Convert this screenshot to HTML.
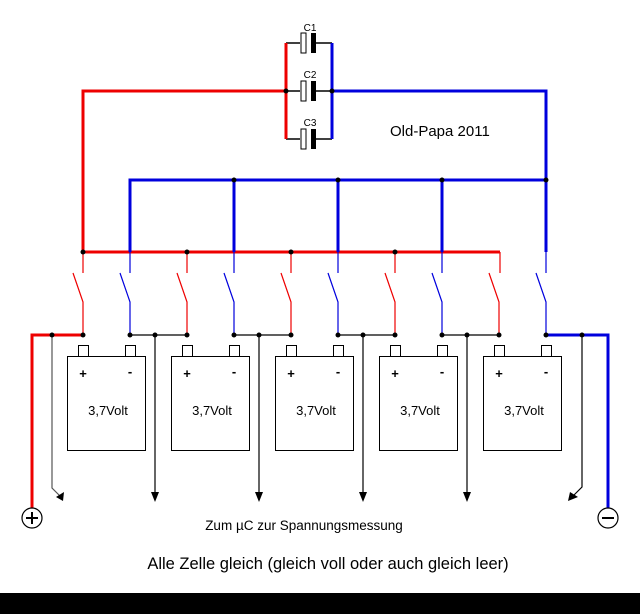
<!DOCTYPE html>
<html><head><style>body{margin:0;background:#fff}svg{display:block}</style></head><body>
<svg width="640" height="614" viewBox="0 0 640 614" xmlns="http://www.w3.org/2000/svg" font-family="Liberation Sans, sans-serif">
<rect x="0" y="0" width="640" height="614" fill="#fff"/>
<rect x="0" y="593" width="640" height="21" fill="#000"/>
<!-- capacitors -->
<g stroke="#000" stroke-width="1.5" fill="none">
<line x1="286" y1="43" x2="300" y2="43"/><line x1="316" y1="43" x2="332" y2="43"/>
<line x1="286" y1="91" x2="300" y2="91"/><line x1="316" y1="91" x2="332" y2="91"/>
<line x1="286" y1="139" x2="300" y2="139"/><line x1="316" y1="139" x2="332" y2="139"/>
</g>
<g>
<rect x="301" y="33" width="5" height="20" fill="#fff" stroke="#000"/><rect x="311" y="33" width="5" height="20" fill="#000"/>
<rect x="301" y="81" width="5" height="20" fill="#fff" stroke="#000"/><rect x="311" y="81" width="5" height="20" fill="#000"/>
<rect x="301" y="129" width="5" height="20" fill="#fff" stroke="#000"/><rect x="311" y="129" width="5" height="20" fill="#000"/>
</g>
<g font-size="10" text-anchor="middle"><text x="310" y="31">C1</text><text x="310" y="78">C2</text><text x="310" y="126">C3</text></g>
<!-- red network -->
<g stroke="#e00" stroke-width="3" fill="none">
<polyline points="286,43 286,139"/>
<polyline points="286,91 83,91 83,252 500,252"/>
<polyline points="83,335 32,335 32,508"/>
</g>
<!-- blue network -->
<g stroke="#00d" stroke-width="3" fill="none">
<polyline points="332,43 332,139"/>
<polyline points="332,91 546,91 546,252"/>
<polyline points="130,252 130,180 546,180"/>
<line x1="234" y1="180" x2="234" y2="252"/><line x1="338" y1="180" x2="338" y2="252"/><line x1="442" y1="180" x2="442" y2="252"/>
<polyline points="546,335 608,335 608,508"/>
</g>
<!-- switches and stubs -->
<g stroke-width="1.2" fill="none">
<g stroke="#e00">
<line x1="83" y1="252" x2="83" y2="273"/><line x1="187" y1="252" x2="187" y2="273"/><line x1="291" y1="252" x2="291" y2="273"/><line x1="395" y1="252" x2="395" y2="273"/><line x1="500" y1="252" x2="500" y2="273"/>
<polyline points="73,273 83,302 83,335"/><polyline points="177,273 187,302 187,335"/><polyline points="281,273 291,302 291,335"/><polyline points="385,273 395,302 395,335"/><polyline points="489,273 499,302 499,335"/>
</g>
<g stroke="#00d">
<line x1="130" y1="252" x2="130" y2="273"/><line x1="234" y1="252" x2="234" y2="273"/><line x1="338" y1="252" x2="338" y2="273"/><line x1="442" y1="252" x2="442" y2="273"/><line x1="546" y1="252" x2="546" y2="273"/>
<polyline points="120,273 130,302 130,335"/><polyline points="224,273 234,302 234,335"/><polyline points="328,273 338,302 338,335"/><polyline points="432,273 442,302 442,335"/><polyline points="536,273 546,302 546,335"/>
</g>
</g>
<!-- series links & measure arrows -->
<g stroke="#000" stroke-width="1.2" fill="none">
<line x1="130" y1="335" x2="187" y2="335"/><line x1="234" y1="335" x2="291" y2="335"/><line x1="338" y1="335" x2="395" y2="335"/><line x1="442" y1="335" x2="499" y2="335"/>
<line x1="155" y1="335" x2="155" y2="497"/><line x1="259" y1="335" x2="259" y2="497"/><line x1="363" y1="335" x2="363" y2="497"/><line x1="467" y1="335" x2="467" y2="497"/>
<polyline points="52,335 52,488 60,496" stroke="#555"/>
<polyline points="582,335 582,487 574,495"/>
</g>
<g fill="#000">
<polygon points="151,492 159,492 155,502"/><polygon points="255,492 263,492 259,502"/><polygon points="359,492 367,492 363,502"/><polygon points="463,492 471,492 467,502"/>
<polygon points="56,497 64,492 63,501"/><polygon points="570,492 578,497 568,501"/>
</g>
<!-- junction dots -->
<g fill="#000">
<circle cx="83" cy="252" r="2.5"/><circle cx="187" cy="252" r="2.5"/><circle cx="291" cy="252" r="2.5"/><circle cx="395" cy="252" r="2.5"/>
<circle cx="234" cy="180" r="2.5"/><circle cx="338" cy="180" r="2.5"/><circle cx="442" cy="180" r="2.5"/><circle cx="546" cy="180" r="2.5"/>
<circle cx="286" cy="91" r="2.5"/><circle cx="332" cy="91" r="2.5"/>
<circle cx="52" cy="335" r="2.5"/><circle cx="83" cy="335" r="2.5"/>
<circle cx="130" cy="335" r="2.5"/><circle cx="155" cy="335" r="2.5"/><circle cx="187" cy="335" r="2.5"/>
<circle cx="234" cy="335" r="2.5"/><circle cx="259" cy="335" r="2.5"/><circle cx="291" cy="335" r="2.5"/>
<circle cx="338" cy="335" r="2.5"/><circle cx="363" cy="335" r="2.5"/><circle cx="395" cy="335" r="2.5"/>
<circle cx="442" cy="335" r="2.5"/><circle cx="467" cy="335" r="2.5"/><circle cx="499" cy="335" r="2.5"/>
<circle cx="546" cy="335" r="2.5"/><circle cx="582" cy="335" r="2.5"/>
</g>
<!-- batteries -->
<g fill="#fff" stroke="#000" stroke-width="1">
<rect x="67.5" y="356.5" width="78" height="94"/><rect x="78.5" y="345.5" width="10" height="11"/><rect x="125.5" y="345.5" width="10" height="11"/>
<rect x="171.5" y="356.5" width="78" height="94"/><rect x="182.5" y="345.5" width="10" height="11"/><rect x="229.5" y="345.5" width="10" height="11"/>
<rect x="275.5" y="356.5" width="78" height="94"/><rect x="286.5" y="345.5" width="10" height="11"/><rect x="333.5" y="345.5" width="10" height="11"/>
<rect x="379.5" y="356.5" width="78" height="94"/><rect x="390.5" y="345.5" width="10" height="11"/><rect x="437.5" y="345.5" width="10" height="11"/>
<rect x="483.5" y="356.5" width="78" height="94"/><rect x="494.5" y="345.5" width="10" height="11"/><rect x="541.5" y="345.5" width="10" height="11"/>
</g>
<g font-size="13" text-anchor="middle" font-weight="bold">
<text x="83" y="378">+</text><text x="130" y="376">-</text>
<text x="187" y="378">+</text><text x="234" y="376">-</text>
<text x="291" y="378">+</text><text x="338" y="376">-</text>
<text x="395" y="378">+</text><text x="442" y="376">-</text>
<text x="499" y="378">+</text><text x="546" y="376">-</text>
</g>
<g font-size="13" text-anchor="middle">
<text x="108" y="415">3,7Volt</text><text x="212" y="415">3,7Volt</text><text x="316" y="415">3,7Volt</text><text x="420" y="415">3,7Volt</text><text x="524" y="415">3,7Volt</text>
</g>
<!-- terminals -->
<g fill="#fff" stroke="#000" stroke-width="1.2">
<circle cx="32" cy="518" r="10"/><circle cx="608" cy="518" r="10"/>
</g>
<g stroke="#000" stroke-width="2"><line x1="26" y1="518" x2="38" y2="518"/><line x1="32" y1="512" x2="32" y2="524"/><line x1="602" y1="518" x2="614" y2="518"/></g>
<text x="390" y="136" font-size="15">Old-Papa 2011</text>
<text x="304" y="530" font-size="13.5" text-anchor="middle">Zum µC zur Spannungsmessung</text>
<text x="328" y="569" font-size="16.5" text-anchor="middle">Alle Zelle gleich (gleich voll oder auch gleich leer)</text>
</svg>
</body></html>
